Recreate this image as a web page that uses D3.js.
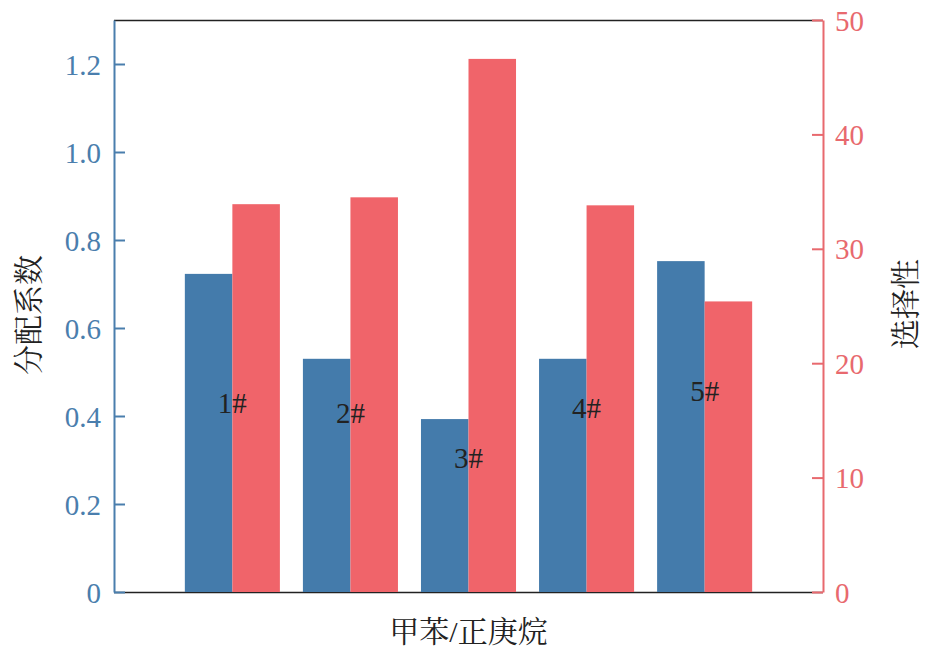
<!DOCTYPE html>
<html><head><meta charset="utf-8">
<script src="https://cdn.jsdelivr.net/npm/d3@7"></script>
<style>body{margin:0;background:#fff}</style>
</head><body><svg id="chart" width="931" height="647"></svg>
<script>
const categories = ["1#", "2#", "3#", "4#", "5#"];
const partitionCoef = [0.723, 0.53, 0.393, 0.53, 0.752];
const selectivity = [33.9, 34.5, 46.6, 33.8, 25.4];
const labelPos = [0.407, 0.384, 0.282, 0.395, 0.434];
const leftTicks = [0, 0.2, 0.4, 0.6, 0.8, 1.0, 1.2];
const rightTicks = [0, 10, 20, 30, 40, 50];
const xTitle = "甲苯/正庚烷", yLeftTitle = "分配系数", yRightTitle = "选择性";

const blue = "#447BAB", red = "#F0646A", blueAxis = "#4A7EAD", redAxis = "#E8696E";
const L = 114, R = 823, T = 20, B = 592;
const font = "'Liberation Serif','Times New Roman',serif";
const cjk = "'Noto Serif CJK SC','Noto Sans CJK SC',sans-serif";

const svg = d3.select("#chart");
const x = d3.scaleBand().domain(categories).range([L, R]).paddingInner(0.195).paddingOuter(0.6);
const yL = d3.scaleLinear().domain([0, 1.3]).range([B, T]);
const yR = d3.scaleLinear().domain([0, 50]).range([B, T]);

svg.append("line").attr("x1", L).attr("x2", R).attr("y1", T + 0.5).attr("y2", T + 0.5).attr("stroke", "#222").attr("stroke-width", 1.5);
svg.append("line").attr("x1", L).attr("x2", R).attr("y1", B + 0.5).attr("y2", B + 0.5).attr("stroke", "#222").attr("stroke-width", 1.5);

const bw = x.bandwidth() / 2;
const g = svg.append("g");
g.selectAll(".b").data(categories).join("rect")
  .attr("x", d => x(d)).attr("width", bw)
  .attr("y", (d, i) => yL(partitionCoef[i])).attr("height", (d, i) => B - yL(partitionCoef[i]))
  .attr("fill", blue);
g.selectAll(".r").data(categories).join("rect")
  .attr("x", d => x(d) + bw).attr("width", bw)
  .attr("y", (d, i) => yR(selectivity[i])).attr("height", (d, i) => B - yR(selectivity[i]))
  .attr("fill", red);

const axL = d3.axisLeft(yL).tickValues(leftTicks).tickSizeInner(-11).tickSizeOuter(0).tickPadding(12)
  .tickFormat(d => d === 0 ? "0" : d3.format(".1f")(d));
const gl = svg.append("g").attr("transform", `translate(${L},0)`).call(axL);
gl.select(".domain").attr("stroke", blueAxis).attr("stroke-width", 2);
gl.selectAll(".tick line").attr("stroke", blueAxis).attr("stroke-width", 2);
gl.selectAll(".tick text").attr("fill", blueAxis).style("font-family", font).style("font-size", "29px").attr("dy", "0.35em").attr("x", -13);

const axR = d3.axisRight(yR).tickValues(rightTicks).tickSizeInner(-11).tickSizeOuter(0).tickPadding(12);
const gr = svg.append("g").attr("transform", `translate(${R},0)`).call(axR);
gr.select(".domain").attr("stroke", redAxis).attr("stroke-width", 2);
gr.selectAll(".tick line").attr("stroke", redAxis).attr("stroke-width", 2);
gr.selectAll(".tick text").attr("fill", redAxis).style("font-family", font).style("font-size", "29px").attr("dy", "0.35em").attr("x", 12);

svg.selectAll(".lab").data(categories).join("text")
  .attr("x", d => x(d) + x.bandwidth() / 2).attr("y", (d, i) => yL(labelPos[i]))
  .attr("text-anchor", "middle").attr("fill", "#222")
  .style("font-family", font).style("font-size", "29px").text(d => d);

svg.append("text").attr("x", (L + R) / 2).attr("y", 642).attr("text-anchor", "middle")
  .style("font-family", font + "," + cjk).style("font-size", "30px").attr("fill", "#222").text(xTitle);
svg.append("text").attr("transform", `translate(39,${(T + B) / 2 + 9}) rotate(-90)`).attr("text-anchor", "middle")
  .style("font-family", cjk).style("font-size", "30px").attr("fill", "#222").text(yLeftTitle);
svg.append("text").attr("transform", `translate(916,${(T + B) / 2 - 2}) rotate(-90)`).attr("text-anchor", "middle")
  .style("font-family", cjk).style("font-size", "30px").attr("fill", "#222").text(yRightTitle);
</script></body></html>
